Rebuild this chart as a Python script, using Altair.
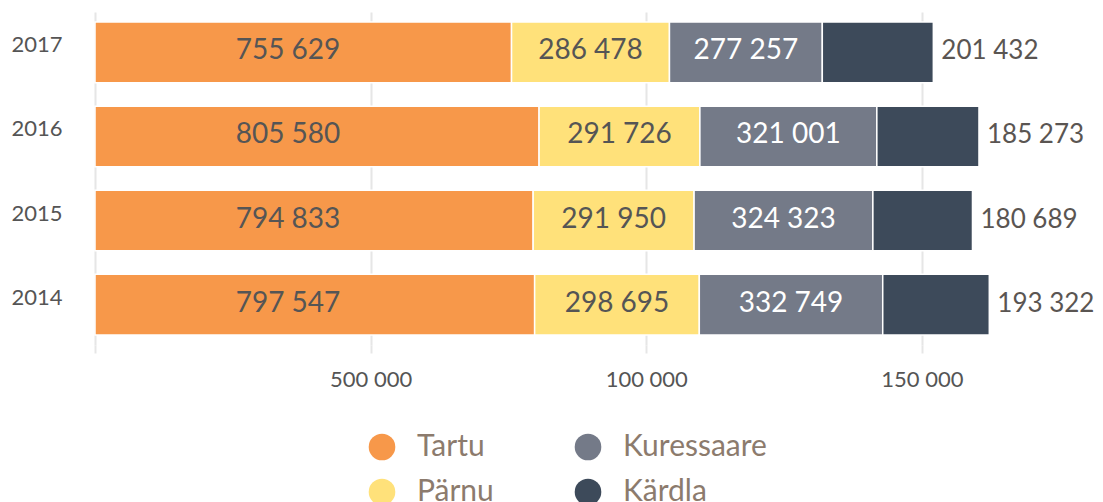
import altair as alt
import pandas as pd

years = ["2017", "2016", "2015", "2014"]
cities = ["Tartu", "Pärnu", "Kuressaare", "Kärdla"]
tartu = [755629, 805580, 794833, 797547]
parnu = [286478, 291726, 291950, 298695]
kuressaare = [277257, 321001, 324323, 332749]
kardla = [201432, 185273, 180689, 193322]
colors = ["#F7984A", "#FFE17A", "#747A88", "#3D4A5A"]
tick_values = [0, 500000, 1000000, 1500000]
tick_labels = ["", "500 000", "100 000", "150 000"]

series = [tartu, parnu, kuressaare, kardla]
rows = []
for i, y in enumerate(years):
    for j, c in enumerate(cities):
        rows.append({"year": y, "city": c, "value": series[j][i], "order": j})
df = pd.DataFrame(rows)

label_expr = " : ".join(
    [f"datum.value == {v} ? '{t}'" for v, t in zip(tick_values, tick_labels)]
) + " : ''"

FONT = "Lato"

base = alt.Chart(df).transform_stack(
    stack="value", groupby=["year"], sort=[alt.SortField("order")], as_=["x0", "x1"]
).transform_calculate(
    mid="(datum.x0 + datum.x1) / 2",
    label="replace(format(datum.value, ','), ',', ' ')",
)

xscale = alt.Scale(domain=[0, 1600000], nice=False, zero=True)
yenc = alt.Y(
    "year:N",
    sort=years,
    scale=alt.Scale(paddingInner=0.28, paddingOuter=0.12),
    axis=alt.Axis(
        title=None, domain=False, ticks=False, labelFont=FONT, labelFontSize=22,
        labelColor="#555555", labelPadding=33, labelOffset=-7,
    ),
)

bars = base.mark_bar(stroke="white", strokeWidth=1.5).encode(
    x=alt.X(
        "x0:Q",
        scale=xscale,
        axis=alt.Axis(
            title=None, values=tick_values, labelExpr=label_expr, domain=False,
            grid=True, gridColor="#E6E6E6", gridWidth=2,
            ticks=True, tickSize=8, tickColor="#E6E6E6", tickWidth=2,
            labelFont=FONT, labelFontSize=22, labelColor="#555555", labelPadding=16,
        ),
    ),
    x2="x1:Q",
    y=yenc,
    color=alt.Color(
        "city:N",
        scale=alt.Scale(domain=cities, range=colors),
        legend=alt.Legend(
            orient="none", legendX=272, legendY=420, columns=2, title=None,
            symbolType="circle", symbolSize=707, symbolStrokeWidth=0,
            labelFont=FONT, labelFontSize=30, labelColor="#8C7B6D",
            labelOffset=20, columnPadding=79, rowPadding=15,
        ),
    ),
)

# Tartu labels sit at a fixed offset from the bar start; the middle series are centred
tartu_text = base.transform_filter("datum.order == 0").mark_text(
    font=FONT, fontSize=28, baseline="middle", align="center", dx=193, dy=-1, color="#555555"
).encode(
    x=alt.X("x0:Q", scale=xscale),
    y=alt.Y("year:N", sort=years),
    text="label:N",
)

inside = base.transform_filter("datum.order == 1 || datum.order == 2").mark_text(
    font=FONT, fontSize=28, baseline="middle", dy=-1
).encode(
    x=alt.X("mid:Q", scale=xscale),
    y=alt.Y("year:N", sort=years),
    text="label:N",
    color=alt.condition("datum.order == 2", alt.value("#FFFFFF"), alt.value("#555555")),
)

outside = base.transform_filter("datum.order == 3").mark_text(
    font=FONT, fontSize=26, baseline="middle", align="left", dx=8, dy=-1, color="#5A5552"
).encode(
    x=alt.X("x1:Q", scale=xscale),
    y=alt.Y("year:N", sort=years),
    text="label:N",
)

chart = alt.layer(bars, tartu_text, inside, outside).properties(
    width=882,
    height=333,
    autosize="none",
    padding={"left": 87, "top": 4, "right": 118, "bottom": 165},
).configure_view(stroke=None)

chart.save("out.html", embed_options={"renderer": "svg", "actions": False})
